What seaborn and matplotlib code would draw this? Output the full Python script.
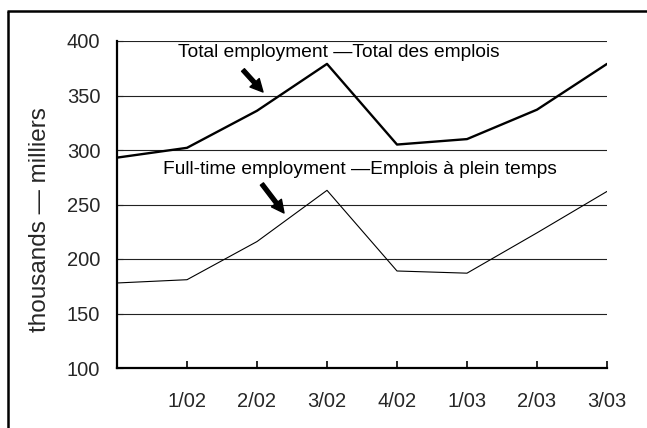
import matplotlib
matplotlib.use("Agg")
import matplotlib.pyplot as plt
from matplotlib.lines import Line2D
import seaborn as sns
import pandas as pd

# Quarterly employment, thousands
quarter_index = [0, 1, 2, 3, 4, 5, 6, 7]
total_employment = [293, 302, 336, 379, 305, 310, 337, 379]
fulltime_employment = [178, 181, 216, 263, 189, 187, 224, 262]
tick_positions = [1, 2, 3, 4, 5, 6, 7]
tick_labels = ["1/02", "2/02", "3/02", "4/02", "1/03", "2/03", "3/03"]
y_ticks = [100, 150, 200, 250, 300, 350, 400]

df = pd.DataFrame({
    "q": quarter_index,
    "total": total_employment,
    "fulltime": fulltime_employment,
})

sns.set_theme(style="white")
plt.rcParams["font.family"] = ["Liberation Sans", "DejaVu Sans"]

W, H, DPI = 647, 428, 100
fig = plt.figure(figsize=(W / DPI, H / DPI), dpi=DPI)
ax = fig.add_axes([117 / W, 1 - 368 / H, (607 - 117) / W, (368 - 41) / H])

# horizontal reference lines
for yv in y_ticks[1:]:
    ax.axhline(yv, color="#222222", lw=0.8, zorder=1)

sns.lineplot(data=df, x="q", y="total", color="black", linewidth=1.7, ax=ax, zorder=3)
sns.lineplot(data=df, x="q", y="fulltime", color="black", linewidth=0.8, ax=ax, zorder=3)

ax.set_xlim(0, 7)
ax.set_ylim(100, 400)
ax.set_xticks(tick_positions)
ax.set_xticklabels(tick_labels, fontsize=14.5)
ax.set_yticks(y_ticks)
ax.set_yticklabels([str(v) for v in y_ticks], fontsize=14.5)
ax.set_xlabel("")
ax.set_ylabel("thousands — milliers", fontsize=17.5)
ax.yaxis.set_label_coords(-0.135, 0.453)

for side in ("top", "right"):
    ax.spines[side].set_visible(False)
for side in ("left", "bottom"):
    ax.spines[side].set_visible(True)
    ax.spines[side].set_color("black")
    ax.spines[side].set_linewidth(1.6)

ax.tick_params(axis="x", direction="in", length=5, width=1.2, color="black",
               pad=17, bottom=True)
ax.tick_params(axis="y", direction="in", length=4, width=0.8, color="black",
               pad=12, left=True)

# series annotations
ax.text(0.871, 389, "Total employment —Total des emplois", fontsize=13.8,
        va="center", ha="left", color="black")
ax.text(0.657, 281.7, "Full-time employment —Emplois à plein temps", fontsize=13.8,
        va="center", ha="left", color="black")
arrow_kw = dict(width=2.8, headwidth=9, headlength=9, color="black", shrink=0)
ax.annotate("", xy=(2.086, 353.2), xytext=(1.8, 373.4), arrowprops=arrow_kw)
ax.annotate("", xy=(2.386, 242.2), xytext=(2.07, 268.8), arrowprops=arrow_kw)

# frame edges around the chart
fig.add_artist(Line2D([7 / W, 1.01], [1 - 11 / H, 1 - 11 / H], color="black",
                      lw=1.8, solid_capstyle="butt", transform=fig.transFigure))
fig.add_artist(Line2D([7.5 / W, 7.5 / W], [-0.01, 1 - 11 / H], color="black",
                      lw=1.8, solid_capstyle="butt", transform=fig.transFigure))

fig.savefig("out.png", dpi=DPI)
